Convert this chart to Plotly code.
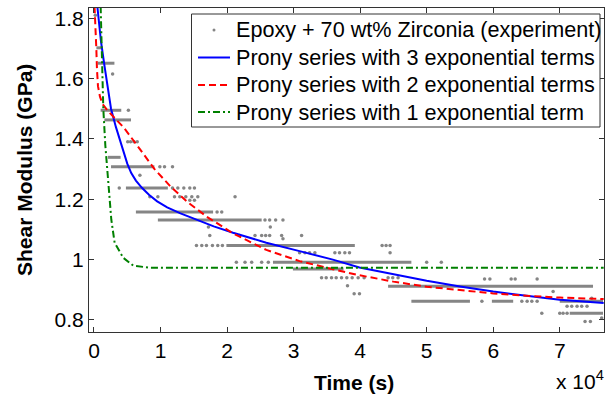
import plotly.graph_objects as go

# ---------------- data (time in units of 10^4 s, modulus in GPa) ----------------
# experimental data: dense horizontal runs (quantised levels)
band_level = [1.702, 1.651, 1.495, 1.463, 1.339, 1.308, 1.237, 1.158, 1.131,
              1.047, 0.991, 0.969, 0.912, 0.862, 0.862, 0.862, 0.822]
band_start = [0.036, 0.056, 0.10, 0.156, 0.21, 0.256, 0.48, 0.63, 0.96,
              1.99, 2.69, 2.99, 4.42, 4.77, 5.98, 7.00, 7.15]
band_end = [0.105, 0.307, 0.41, 0.556, 0.40, 0.908, 1.11, 1.79, 2.52,
            3.92, 4.77, 3.75, 7.50, 5.65, 6.30, 7.65, 7.65]

# experimental data: isolated points
dot_t = [0.02, 0.28, 0.517, 0.507, 0.55, 0.60, 0.65,
         0.99, 1.06, 1.18, 0.69,
         0.38, 1.18, 1.26, 1.35, 1.44, 1.51,
         0.84, 0.96, 1.21, 1.29, 1.38, 1.47, 1.56, 2.12,
         1.44, 1.51, 1.85, 1.92,
         2.57, 2.64, 2.73, 2.84, 1.72, 2.65,
         1.74, 2.19, 2.42, 2.52, 2.58, 2.64, 2.82, 3.12, 2.84,
         1.54, 1.62, 1.69, 1.78, 1.86, 1.93, 4.33, 4.39, 4.45,
         3.09, 3.17, 3.24, 3.32, 3.62, 3.69, 3.77, 3.84, 4.45,
         2.14, 2.27, 2.37, 2.52, 2.62, 5.00, 5.22,
         3.42, 3.49, 3.57, 3.64, 3.72, 3.80, 3.88, 3.97, 4.06, 4.42, 4.49, 4.57,
         3.81, 3.91, 3.99,
         5.87, 5.95, 6.27, 6.33, 6.66,
         5.83, 6.43, 6.51, 6.58, 6.66,
         6.90, 7.48,
         6.73, 7.00, 7.05, 7.11,
         7.11, 7.18, 7.26, 7.33, 7.41,
         7.38, 7.46, 7.63]
dot_g = [1.81, 1.615, 1.495, 1.391, 1.391, 1.391, 1.391,
         1.308, 1.308, 1.308, 1.28,
         1.237, 1.237, 1.237, 1.237, 1.237, 1.237,
         1.208, 1.208, 1.208, 1.208, 1.208, 1.208, 1.208, 1.208,
         1.197, 1.197, 1.158, 1.158,
         1.131, 1.131, 1.131, 1.131, 1.108, 1.108,
         1.08, 1.08, 1.08, 1.08, 1.08, 1.08, 1.08, 1.08, 1.069,
         1.047, 1.047, 1.047, 1.047, 1.047, 1.047, 1.047, 1.047, 1.047,
         1.023, 1.023, 1.023, 1.023, 1.023, 1.023, 1.023, 1.023, 1.023,
         0.991, 0.991, 0.991, 0.991, 0.991, 0.991, 0.991,
         0.94, 0.94, 0.94, 0.94, 0.94, 0.94, 0.94, 0.94, 0.94, 0.94, 0.94, 0.94,
         0.913, 0.887, 0.887,
         0.936, 0.936, 0.936, 0.936, 0.936,
         0.862, 0.862, 0.862, 0.862, 0.862,
         0.894, 0.872,
         0.822, 0.822, 0.822, 0.822,
         0.845, 0.845, 0.845, 0.845, 0.845,
         0.795, 0.795, 0.806]

# Prony series fits
p3_t = [0.05, 0.105, 0.156, 0.206, 0.256, 0.33, 0.41, 0.45, 0.50, 0.56, 0.63, 0.72,
        0.83, 0.95, 1.10, 1.30, 1.51, 1.80, 2.09, 2.59, 3.09, 3.59, 3.99, 4.5, 5.0,
        5.5, 6.0, 6.5, 7.0, 7.66]
p3_g = [1.84, 1.723, 1.645, 1.568, 1.50, 1.439, 1.383, 1.352, 1.318, 1.287, 1.262, 1.238,
        1.214, 1.193, 1.173, 1.153, 1.135, 1.110, 1.089, 1.056, 1.028, 1.000, 0.974, 0.951,
        0.930, 0.911, 0.894, 0.880, 0.867, 0.856]

p2_t = [0.008, 0.02, 0.035, 0.045, 0.06, 0.09, 0.13, 0.2, 0.3, 0.45, 0.66, 0.91,
        1.16, 1.41, 1.71, 2.09, 2.59, 3.09, 3.59, 3.99, 4.5, 5.0, 5.5, 6.0, 6.5, 7.0, 7.66]
p2_g = [1.84, 1.79, 1.70, 1.63, 1.575, 1.54, 1.515, 1.495, 1.472, 1.437, 1.375, 1.300,
        1.240, 1.190, 1.140, 1.087, 1.032, 0.995, 0.968, 0.948, 0.927, 0.910, 0.899,
        0.888, 0.880, 0.874, 0.869]

p1_t = [0.10, 0.12, 0.14, 0.17, 0.20, 0.236, 0.26, 0.31, 0.44, 0.59, 0.84, 7.66]
p1_g = [1.84, 1.65, 1.50, 1.38, 1.29, 1.20, 1.133, 1.056, 1.006, 0.980, 0.973, 0.973]

x_ticks = [0, 1, 2, 3, 4, 5, 6, 7]
y_ticks = [0.8, 1.0, 1.2, 1.4, 1.6, 1.8]
y_ticktext = ["0.8", "1", "1.2", "1.4", "1.6", "1.8"]

legend_labels = ["Epoxy + 70 wt% Zirconia (experiment)",
                 "Prony series with 3 exponential terms",
                 "Prony series with 2 exponential terms",
                 "Prony series with 1 exponential term"]

# ---------------- figure ----------------
FONT = "Arial, 'Liberation Sans', sans-serif"
GRAY = "#858585"
BLUE, RED, GREEN = "#0000FF", "#FF0000", "#008000"
DASH2, DASH1 = "7px,4px", "7px,3px,2px,3px"
W, H = 612, 399
ML, MR, MT, MB = 89, 8, 8, 67
PW, PH = W - ML - MR, H - MT - MB


def px(xp):  # pixel -> paper x
    return (xp - ML) / PW


def py(yp):  # pixel -> paper y
    return (H - MB - yp) / PH


bx, by = [], []
for lv, a, b in zip(band_level, band_start, band_end):
    bx += [a, b, None]
    by += [lv, lv, None]

fig = go.Figure()
fig.add_trace(go.Scatter(x=bx, y=by, mode="lines", line=dict(color=GRAY, width=3),
                         showlegend=False, hoverinfo="skip"))
fig.add_trace(go.Scatter(x=dot_t, y=dot_g, mode="markers",
                         marker=dict(color=GRAY, size=3.5), showlegend=False,
                         name=legend_labels[0]))
fig.add_trace(go.Scatter(x=p3_t, y=p3_g, mode="lines", line=dict(color=BLUE, width=2),
                         showlegend=False, name=legend_labels[1]))
fig.add_trace(go.Scatter(x=p2_t, y=p2_g, mode="lines",
                         line=dict(color=RED, width=2, dash=DASH2),
                         showlegend=False, name=legend_labels[2]))
fig.add_trace(go.Scatter(x=p1_t, y=p1_g, mode="lines",
                         line=dict(color=GREEN, width=2, dash=DASH1),
                         showlegend=False, name=legend_labels[3]))

axis_common = dict(showgrid=False, zeroline=False, showline=True, linecolor="#333333",
                   linewidth=1, ticks="inside", ticklen=5, tickcolor="#333333",
                   mirror="allticks", tickfont=dict(family=FONT, size=21, color="black"))

# legend drawn as a boxed key inside the axes (MATLAB style)
box = dict(x0=191.5, x1=600, y0=14, y1=127)
rows = [30, 57.5, 85, 112]
shapes = [dict(type="rect", xref="paper", yref="paper",
               x0=px(box["x0"]), x1=px(box["x1"]), y0=py(box["y1"]), y1=py(box["y0"]),
               line=dict(color="#333333", width=1), fillcolor="white", layer="above")]
shapes.append(dict(type="circle", xref="paper", yref="paper",
                   x0=px(212.5), x1=px(215.5), y0=py(rows[0] + 1.5), y1=py(rows[0] - 1.5),
                   line=dict(width=0), fillcolor=GRAY, layer="above"))
for r, col, dsh in zip(rows[1:], [BLUE, RED, GREEN], ["solid", DASH2, DASH1]):
    shapes.append(dict(type="line", xref="paper", yref="paper",
                       x0=px(198), x1=px(230), y0=py(r), y1=py(r),
                       line=dict(color=col, width=2, dash=dsh), layer="above"))

annotations = [dict(text=lab, xref="paper", yref="paper", x=px(234), y=py(r),
                    xanchor="left", yanchor="middle", showarrow=False,
                    font=dict(family=FONT, size=21.6, color="black"))
               for lab, r in zip(legend_labels, rows)]
annotations += [
    dict(text="<b>Shear Modulus (GPa)</b>", xref="paper", yref="paper",
         x=px(24), y=py(170), xanchor="center", yanchor="middle", textangle=-90,
         showarrow=False, font=dict(family=FONT, size=21, color="black")),
    dict(text="<b>Time (s)</b>", xref="paper", yref="paper",
         x=px(354), y=py(382), xanchor="center", yanchor="middle",
         showarrow=False, font=dict(family=FONT, size=21, color="black")),
    dict(text="x 10<sup>4</sup>", xref="paper", yref="paper",
         x=px(580), y=py(380), xanchor="center", yanchor="middle",
         showarrow=False, font=dict(family=FONT, size=21, color="black")),
]

fig.update_layout(
    width=W, height=H,
    margin=dict(l=ML, r=MR, t=MT, b=MB),
    paper_bgcolor="white", plot_bgcolor="white",
    font=dict(family=FONT, color="black"),
    showlegend=False,
    xaxis=dict(range=[-0.075, 7.665], tickvals=x_ticks, **axis_common),
    yaxis=dict(range=[0.76, 1.834], tickvals=y_ticks, ticktext=y_ticktext, **axis_common),
    shapes=shapes,
    annotations=annotations,
)

fig.write_html("out.html")
